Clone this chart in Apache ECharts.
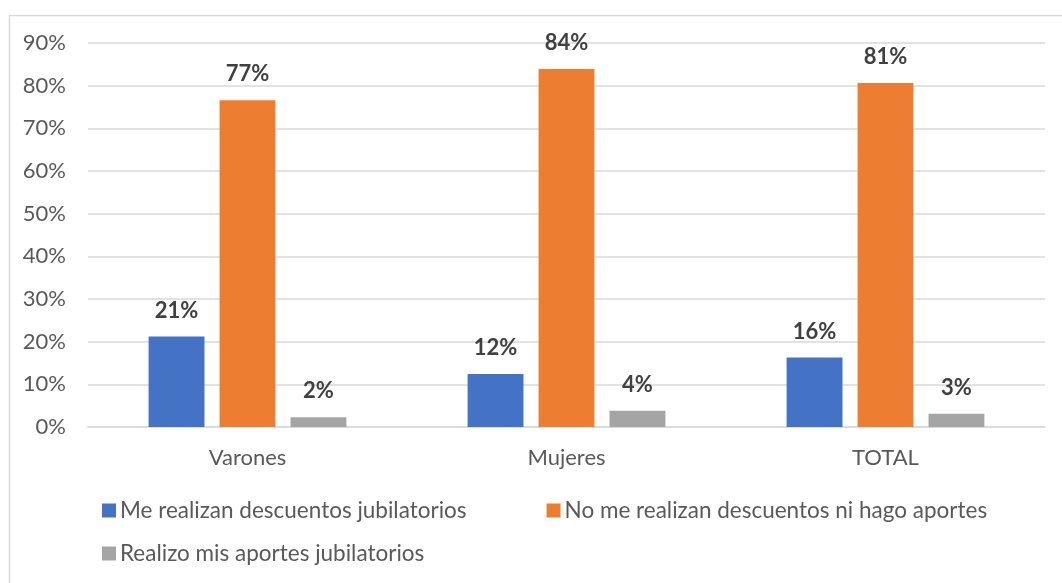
<!DOCTYPE html>
<html><head><meta charset="utf-8">
<script src="https://cdn.jsdelivr.net/npm/echarts@6/dist/echarts.min.js"></script>
<style>html,body{margin:0;padding:0;background:#fff}#c{width:1062px;height:583px}</style>
</head><body><div id="c"></div>
<script>
const categories = ['Varones', 'Mujeres', 'TOTAL'];
const seriesNames = ['Me realizan descuentos jubilatorios', 'No me realizan descuentos ni hago aportes', 'Realizo mis aportes jubilatorios'];
const descuentos = [21.2, 12.4, 16.3];
const sinAportes = [76.6, 83.9, 80.6];
const aportesPropios = [2.3, 3.8, 3.1];
const yTicks = [0, 10, 20, 30, 40, 50, 60, 70, 80, 90];
const colors = ['#4472c4', '#ed7d31', '#a5a5a5'];
const FONT = 'Lato';

const chart = echarts.init(document.getElementById('c'), null, {renderer: 'canvas'});
const mk = (name, data, color) => ({
  name, type: 'bar', data, barGap: '27%', barCategoryGap: '38%',
  itemStyle: {color},
  label: {show: true, position: 'top', distance: 15, formatter: p => Math.round(p.value) + '%',
    fontFamily: FONT, fontSize: 22, fontWeight: 'bold', color: '#404040'}
});
chart.setOption({
  animation: false,
  textStyle: {fontFamily: FONT},
  graphic: [{type: 'rect', left: 7, top: 13, shape: {width: 1100, height: 620}, style: {fill: 'none', stroke: '#d9d9d9', lineWidth: 1.5}, silent: true}],
  grid: {left: 88, right: 17, top: 43, bottom: 156, containLabel: false},
  xAxis: {type: 'category', data: categories,
    axisLine: {lineStyle: {color: '#d9d9d9', width: 1.5}}, axisTick: {show: false},
    axisLabel: {fontFamily: FONT, fontSize: 22, color: '#595959', margin: 20}},
  yAxis: {type: 'value', min: yTicks[0], max: yTicks[yTicks.length - 1], interval: 10,
    axisLine: {show: false}, axisTick: {show: false},
    splitLine: {lineStyle: {color: '#d9d9d9', width: 1.5}},
    axisLabel: {formatter: v => v + '%', fontFamily: FONT, fontSize: 22, color: '#595959', margin: 22}},
  legend: [
    {data: [seriesNames[0], seriesNames[1]], left: 97, top: 494, icon: 'rect', itemWidth: 14, itemHeight: 14, itemGap: 80,
      textStyle: {fontFamily: FONT, fontSize: 22.5, color: '#595959', padding: [0, 0, 0, -1]}, selectedMode: false},
    {data: [seriesNames[2]], left: 97, top: 537, icon: 'rect', itemWidth: 14, itemHeight: 14,
      textStyle: {fontFamily: FONT, fontSize: 22.5, color: '#595959', padding: [0, 0, 0, -1]}, selectedMode: false}
  ],
  series: [mk(seriesNames[0], descuentos, colors[0]), mk(seriesNames[1], sinAportes, colors[1]), mk(seriesNames[2], aportesPropios, colors[2])]
});
</script></body></html>
